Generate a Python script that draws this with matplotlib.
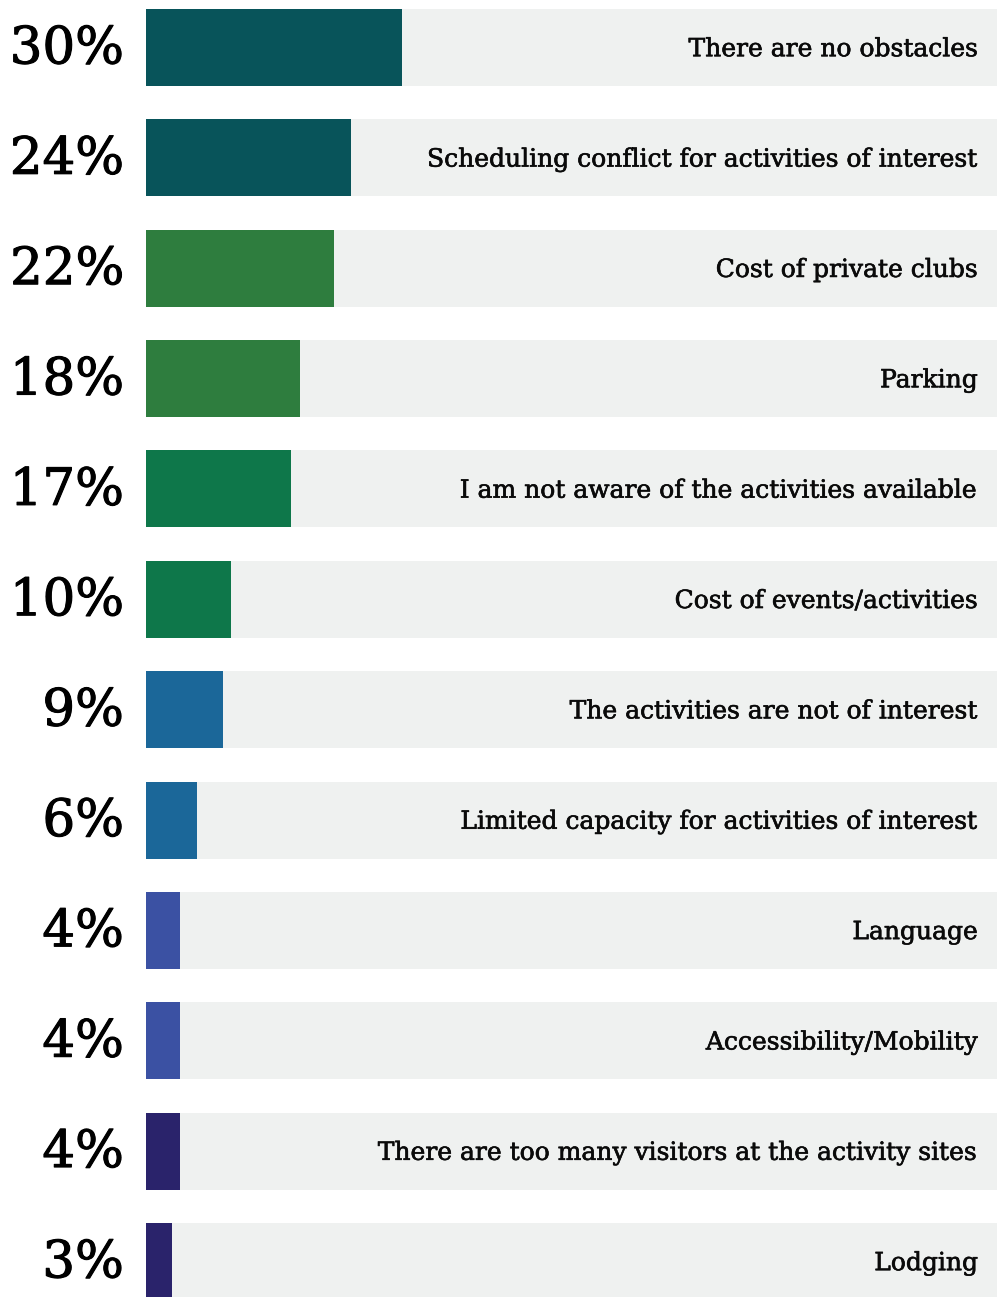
import matplotlib
matplotlib.use("Agg")
import matplotlib.pyplot as plt
import matplotlib.patheffects as pe

categories = [
    "There are no obstacles",
    "Scheduling conflict for activities of interest",
    "Cost of private clubs",
    "Parking",
    "I am not aware of the activities available",
    "Cost of events/activities",
    "The activities are not of interest",
    "Limited capacity for activities of interest",
    "Language",
    "Accessibility/Mobility",
    "There are too many visitors at the activity sites",
    "Lodging",
]
values = [30, 24, 22, 18, 17, 10, 9, 6, 4, 4, 4, 3]
value_labels = ["30%", "24%", "22%", "18%", "17%", "10%", "9%", "6%", "4%", "4%", "4%", "3%"]
colors = ["#08545a", "#08545a", "#2e7d3e", "#2e7d3e", "#0e774a", "#0e774a",
          "#1b6799", "#1b6799", "#3b51a3", "#3b51a3", "#2a236b", "#2a236b"]

W, H = 997, 1297
fig = plt.figure(figsize=(W / 100, H / 100), dpi=100)
left = 146 / W
ax = fig.add_axes([left, 0, 1 - left, 1])
px_per_unit = 8.53
ax.set_xlim(0, (W - 146) / px_per_unit)
pitch = 110.36
ax.set_ylim((H - 47.5) / pitch, -47.5 / pitch)
ax.axis("off")

ypos = list(range(len(categories)))
bh = 77 / pitch
ax.barh(ypos, [100] * len(ypos), height=bh, color="#eff1f0", zorder=1)
ax.barh(ypos, values, height=bh, color=colors, zorder=2)

label_x = (978 - 146) / px_per_unit
pct_x = -(146 - 124) / px_per_unit
for y, cat, lab in zip(ypos, categories, value_labels):
    ax.text(label_x, y + 0.02, cat, ha="right", va="center", fontsize=18,
            family="DejaVu Serif", color="#0a0a0a", zorder=3,
            path_effects=[pe.withStroke(linewidth=0.45, foreground="#0a0a0a")])
    ax.text(pct_x, y + 0.02, lab, ha="right", va="center", fontsize=37,
            family="DejaVu Serif", color="#000000", clip_on=False, zorder=3,
            path_effects=[pe.withStroke(linewidth=0.8, foreground="#000000")])

fig.savefig("out.png", dpi=100)
